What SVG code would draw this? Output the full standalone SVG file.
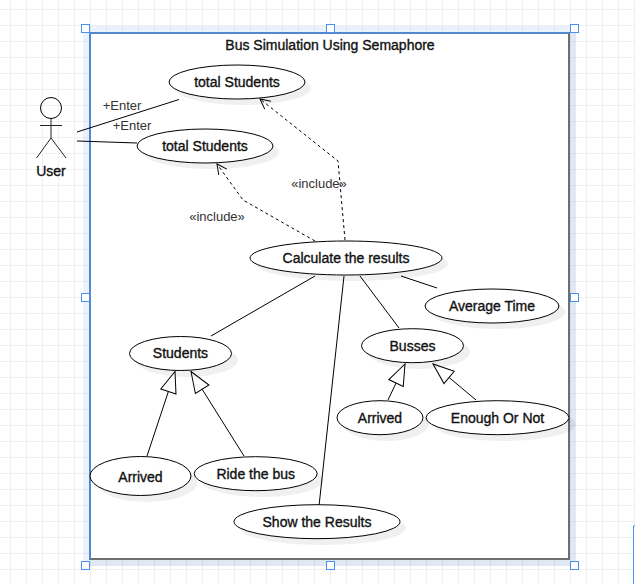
<svg xmlns="http://www.w3.org/2000/svg" width="635" height="584" viewBox="0 0 635 584">
<defs>
<pattern id="grid" width="16" height="16" patternUnits="userSpaceOnUse" x="10" y="9"><path d="M0.5 0V16M0 0.5H16" fill="none" stroke="#eff0f2" stroke-width="1"/></pattern>
<marker id="open" markerUnits="userSpaceOnUse" markerWidth="16" markerHeight="16" refX="15" refY="8" orient="auto" viewBox="0 0 16 16"><path d="M5 3L15 8L5 13" fill="none" stroke="#000" stroke-width="1"/></marker>
<marker id="tri" markerUnits="userSpaceOnUse" markerWidth="26" markerHeight="26" refX="25" refY="13" orient="auto" viewBox="0 0 26 26"><path d="M25 13L4 5V21Z" fill="#fff" stroke="#000" stroke-width="1"/></marker>
</defs>
<style>
.u{fill:#fff;stroke:#000;stroke-width:1}
.s{fill:#000;fill-opacity:.06;stroke:none}
.c{fill:none;stroke:#000;stroke-width:1}
.d{stroke-dasharray:3 3}
.h{fill:#fff;stroke:#4a90f0;stroke-width:1}
text{font-family:"Liberation Sans",Arial,sans-serif;font-size:13px;fill:#111;text-anchor:middle}
.b{font-size:14px;font-weight:400;stroke:#111;stroke-width:.35px}
.l{fill:#333}
</style>
<rect width="635" height="584" fill="#fff"/>
<rect width="635" height="584" fill="url(#grid)"/>
<g id="selection">
<rect x="83" y="26" width="493" height="540" fill="#4a90f0" fill-opacity=".12"/>
<rect x="569" y="33" width="7" height="533" fill="#000" fill-opacity=".04"/>
<rect x="90" y="559" width="479" height="7" fill="#000" fill-opacity=".04"/>
<rect x="90" y="33" width="479" height="526" fill="#fff" stroke="#6f6f6f" stroke-width="2"/>
<path d="M90 559V33H569" fill="none" stroke="#4a90f0" stroke-width="1.500"/>
<rect x="633.500" y="526" width="4" height="70" fill="#fff" stroke="#4a90f0" stroke-width="1"/>
</g>
<g id="frame-title"><text x="330" y="50" class="b">Bus Simulation Using Semaphore</text></g>
<g id="connectors">
<path class="c" d="M77 132L179 99.500"/>
<path class="c" d="M77 141L137 143"/>
<path class="c d" d="M345 240L338 161L260 99" marker-end="url(#open)"/>
<path class="c d" d="M315 241L243 200L217 164" marker-end="url(#open)"/>
<path class="c" d="M315 276L211 336"/>
<path class="c" d="M344 276L319 506"/>
<path class="c" d="M360 276L399 328"/>
<path class="c" d="M401 276L437 288"/>
<path class="c" d="M147 456L175 371.500" marker-end="url(#tri)"/>
<path class="c" d="M244 456L191 371.500" marker-end="url(#tri)"/>
<path class="c" d="M388 400L405 364" marker-end="url(#tri)"/>
<path class="c" d="M476 400L433 364" marker-end="url(#tri)"/>
</g>
<g id="connector-labels">
<text x="122" y="110" class="l">+Enter</text>
<text x="132" y="130" class="l">+Enter</text>
<text x="319" y="188" class="l">«include»</text>
<text x="217" y="221" class="l">«include»</text>
</g>
<g id="actor-user">
<circle class="c" cx="51" cy="108" r="10.500"/>
<path class="c" d="M51 118.500V138M40 125.500H62M51 138L36.500 158M51 138L66 158" style="stroke:#222"/>
<text x="51" y="176" class="b">User</text>
</g>
<g id="uc-total-students-1"><ellipse class="s" cx="243" cy="88" rx="68" ry="17"/><ellipse class="u" cx="237" cy="82" rx="68" ry="17"/><text x="237" y="86.500" class="b">total Students</text></g>
<g id="uc-total-students-2"><ellipse class="s" cx="211" cy="152" rx="68" ry="17"/><ellipse class="u" cx="205" cy="146" rx="68" ry="17"/><text x="205" y="150.500" class="b">total Students</text></g>
<g id="uc-calculate"><ellipse class="s" cx="352" cy="264" rx="96" ry="17"/><ellipse class="u" cx="346" cy="258" rx="96" ry="17"/><text x="346" y="262.500" class="b">Calculate the results</text></g>
<g id="uc-average-time"><ellipse class="s" cx="498" cy="312" rx="67" ry="17"/><ellipse class="u" cx="492" cy="306" rx="67" ry="17"/><text x="492" y="310.500" class="b">Average Time</text></g>
<g id="uc-students"><ellipse class="s" cx="187" cy="360" rx="51" ry="17"/><ellipse class="u" cx="180.500" cy="353.500" rx="51" ry="17"/><text x="180.500" y="358" class="b">Students</text></g>
<g id="uc-busses"><ellipse class="s" cx="419" cy="352" rx="51" ry="17"/><ellipse class="u" cx="412.500" cy="345.700" rx="51" ry="17"/><text x="412.500" y="350.500" class="b">Busses</text></g>
<g id="uc-arrived-busses"><ellipse class="s" cx="386" cy="424" rx="43" ry="17"/><ellipse class="u" cx="380" cy="417.700" rx="43" ry="17"/><text x="380" y="422.500" class="b">Arrived</text></g>
<g id="uc-enough"><ellipse class="s" cx="504" cy="424" rx="71.500" ry="17"/><ellipse class="u" cx="497.500" cy="417.700" rx="71.500" ry="17"/><text x="497.500" y="422.500" class="b">Enough Or Not</text></g>
<g id="uc-arrived-students"><ellipse class="s" cx="147" cy="482.500" rx="50.500" ry="19.500"/><ellipse class="u" cx="140.500" cy="476" rx="50.500" ry="19.500"/><text x="140.500" y="481.500" class="b">Arrived</text></g>
<g id="uc-ride"><ellipse class="s" cx="262" cy="480" rx="61.500" ry="17"/><ellipse class="u" cx="255.700" cy="473.700" rx="61.500" ry="17"/><text x="255.700" y="478.500" class="b">Ride the bus</text></g>
<g id="uc-show"><ellipse class="s" cx="323" cy="528" rx="83" ry="17"/><ellipse class="u" cx="317" cy="521.700" rx="83" ry="17"/><text x="317" y="526.500" class="b">Show the Results</text></g>
<g id="handles">
<rect class="h" x="81.500" y="24.500" width="8" height="8"/><rect class="h" x="326.500" y="24.500" width="8" height="8"/><rect class="h" x="570.500" y="24.500" width="8" height="8"/>
<rect class="h" x="81.500" y="293.500" width="8" height="8"/><rect class="h" x="570.500" y="293.500" width="8" height="8"/>
<rect class="h" x="81.500" y="561.500" width="8" height="8"/><rect class="h" x="326.500" y="561.500" width="8" height="8"/><rect class="h" x="570.500" y="561.500" width="8" height="8"/>
</g>
</svg>
